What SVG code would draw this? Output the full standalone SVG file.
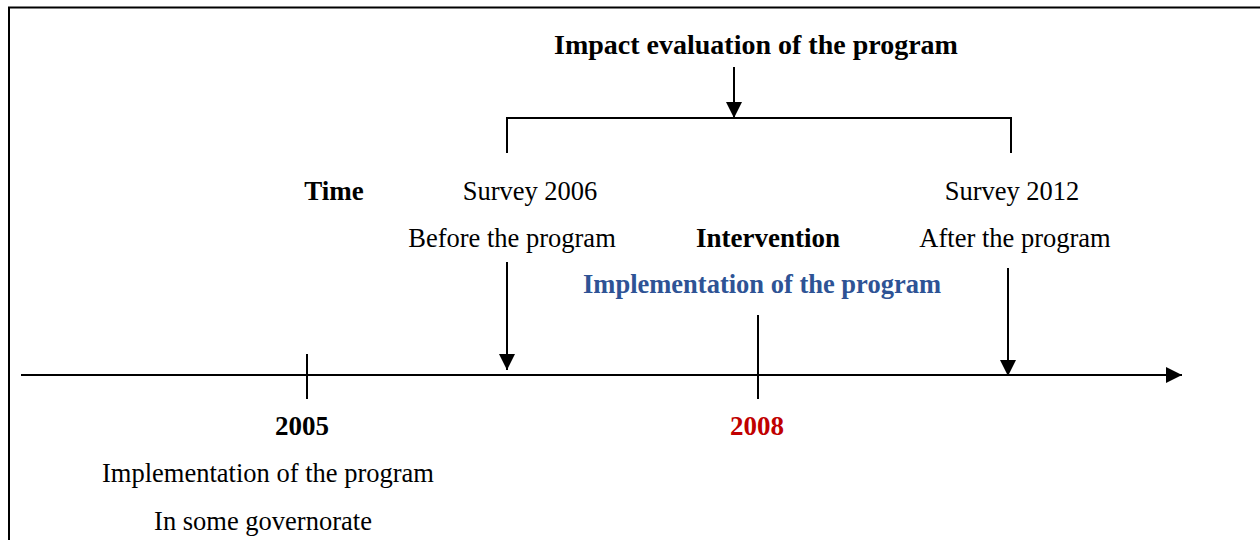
<svg xmlns="http://www.w3.org/2000/svg" width="1260" height="540" viewBox="0 0 1260 540">
  <style>
    text { font-family: "Liberation Serif", "Times New Roman", serif; font-size: 26.5px; fill: #000; text-anchor: middle; }
    .b { font-weight: bold; font-size: 27px; }
    .title { font-size: 28px; }
    .blue { fill: #2E5395; font-size: 26.5px; }
    .red { fill: #C00000; }
    .ln { stroke: #000; stroke-width: 2; fill: none; }
  </style>
  <defs>
    <marker id="ah" viewBox="0 0 16 16" refX="16" refY="8" markerWidth="16" markerHeight="16" markerUnits="userSpaceOnUse" orient="auto">
      <path d="M0,0 L16,8 L0,16 Z" fill="#000"/>
    </marker>
  </defs>
  <rect width="1260" height="540" fill="#fff"/>

  <!-- frame (top and left edges) -->
  <g id="frame">
    <line class="ln" x1="8" y1="7.5" x2="1260" y2="7.5"/>
    <line class="ln" x1="9" y1="7" x2="9" y2="540"/>
  </g>

  <!-- labels -->
  <g id="evaluation"><text class="b title" x="756" y="54">Impact evaluation of the program</text></g>
  <g id="time"><text class="b" x="334" y="200">Time</text></g>
  <g id="survey2006">
    <text x="530" y="200">Survey 2006</text>
    <text x="512" y="247">Before the program</text>
  </g>
  <g id="survey2012">
    <text x="1012" y="200">Survey 2012</text>
    <text x="1015" y="247">After the program</text>
  </g>
  <g id="intervention">
    <text class="b" x="768" y="247">Intervention</text>
    <text class="b blue" x="762" y="293">Implementation of the program</text>
  </g>
  <g id="y2005">
    <text class="b" x="302" y="435">2005</text>
    <text x="268" y="482">Implementation of the program</text>
    <text x="263" y="530">In some governorate</text>
  </g>
  <g id="y2008"><text class="b red" x="757" y="435">2008</text></g>

  <!-- connectors -->
  <g id="connectors">
    <!-- timeline axis -->
    <line class="ln" x1="21" y1="375" x2="1182" y2="375" marker-end="url(#ah)"/>
    <!-- ticks -->
    <line class="ln" x1="307" y1="354" x2="307" y2="399"/>
    <line class="ln" x1="758" y1="315" x2="758" y2="399"/>
    <!-- bracket over both surveys -->
    <polyline class="ln" points="507,153 507,118 1011,118 1011,153"/>
    <line class="ln" x1="734" y1="67" x2="734" y2="118" marker-end="url(#ah)"/>
    <!-- survey arrows -->
    <line class="ln" x1="507" y1="262" x2="507" y2="370" marker-end="url(#ah)"/>
    <line class="ln" x1="1008" y1="268" x2="1008" y2="376" marker-end="url(#ah)"/>
  </g>
</svg>
